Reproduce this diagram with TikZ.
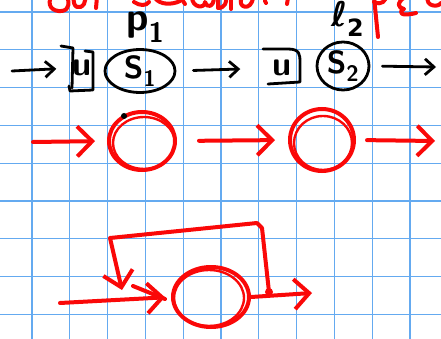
\documentclass[tikz,border=0pt]{standalone}
\usepackage{fontspec}
\newfontfamily\dejavu{DejaVu Sans}
\usetikzlibrary{arrows.meta,shapes.geometric}
\definecolor{gridblue}{RGB}{100,170,240}
\definecolor{inkred}{RGB}{250,8,8}
\tikzset{
  gridline/.style={draw=gridblue, line width=1.3pt},
  ink/.style={black, line width=2.8pt, line cap=round, line join=round},
  rink/.style={inkred, line width=4pt, line cap=round, line join=round},
  barb/.style={-{Straight Barb[length=9pt,width=16pt]}},
  rbarb/.style={-{Straight Barb[length=15pt,width=30pt]}},
  hand/.style={font=\fontsize{34}{34}\selectfont\sffamily\bfseries, inner sep=0pt},
  bigring/.style={ellipse, draw=inkred, line width=4pt, inner sep=0pt},
  blackring/.style={ellipse, draw=black, line width=2.8pt, inner sep=0pt, font=\fontsize{32}{32}\selectfont\sffamily\bfseries},
}
\begin{document}
\begin{tikzpicture}[x=1pt,y=-1pt]
\useasboundingbox[fill=white] (0,0) rectangle (441,339);
% grid
\foreach \k in {0,...,10} \draw[gridline] ({32+37.8*\k},0) -- ({32+37.8*\k},339);
\foreach \k in {0,...,8} \draw[gridline] (0,{12+37.8*\k}) -- (441,{12+37.8*\k});

% top red fragments (clipped title)
\begin{scope}
\clip (0,0) rectangle (441,339);
\draw[rink] (52,-5) .. controls (46,5) and (52,12) .. (62,11) .. controls (70,10) and (70,0) .. (66,-4);
\draw[rink] (74,-3) .. controls (72,8) and (80,10) .. (84,4) -- (86,-3);
\draw[rink] (97,-3) -- (96,8);
\draw[rink] (134,2) .. controls (140,6) and (146,6) .. (149,2);
\draw[rink] (155,-2) .. controls (160,5) and (172,5) .. (180,1);
\draw[rink] (181,-2) -- (185,4);
\draw[rink] (192,-3) .. controls (192,8) and (205,9) .. (205,2) .. controls (206,8) and (214,8) .. (214,-3);
\draw[rink] (218,-3) -- (218,8) .. controls (225,8) and (227,2) .. (226,-3);
\draw[rink] (231,-3) -- (231,9);
\draw[rink] (242,-3) .. controls (236,8) and (252,12) .. (253,-3);
\draw[rink] (265,1) -- (266,3);
\draw[rink] (288,-2) -- (287,4);
\draw[rink] (374,-3) -- (378,37);
\draw[rink] (374,2) .. controls (382,6) and (386,0) .. (386,-4);
\draw[rink] (405,-3) .. controls (396,3) and (398,8) .. (404,9) .. controls (398,12) and (400,17) .. (416,13);
\draw[rink] (428,-3) .. controls (425,6) and (438,8) .. (441,3);
\end{scope}

% ---- top row (black)
\coordinate (in1) at (12,71);
\node[hand] (b1) at (82,68) {u};
\draw[ink] (61,46) -- (73,48) -- (72,88);
\draw[ink] (69,86) -- (70,91) -- (93,90) -- (93,52) -- (85,51);
\node[blackring, minimum width=70pt, minimum height=42pt] (s1) at (140,71) {S\textsubscript{1}};
\node[hand] (b2) at (282,68) {u};
\draw[ink] (263,49) -- (288,49) .. controls (300,49) and (300,55) .. (300,62) -- (300,82) -- (268,84);
\node[blackring, minimum width=52pt, minimum height=48pt] (s2) at (343,66) {S\textsubscript{2}};
\coordinate (out1) at (436,67);
\node[font=\fontsize{40}{40}\selectfont\sffamily\bfseries, inner sep=0pt, anchor=base west, text height=19pt] (p1) at (126,31) {p\textsubscript{1}};
\node[font=\fontsize{34}{34}\selectfont\dejavu\bfseries, inner sep=0pt, anchor=base west, text height=25pt] (p2) at (331,27) {ℓ\textsubscript{2}};

\draw[ink,barb,shorten >=16pt] (in1) -- (b1.west);
\draw[ink,barb,shorten <=17pt,shorten >=32pt] (s1.east) -- (b2.west);
\draw[ink,barb,shorten <=12pt] (s2.east) -- (out1);

% ---- middle row (red)
\coordinate (rin) at (33,142);
\node[bigring, minimum width=66pt, minimum height=58pt] (rc1) at (142,141) {};
\draw[inkred, line width=2.4pt] (rc1.center) ++(2,2) ellipse [x radius=31pt, y radius=26pt];
\fill[black] (124,116) circle [radius=3pt];
\node[bigring, minimum width=64pt, minimum height=62pt] (rc2) at (322,140) {};
\draw[inkred, line width=2.4pt] (rc2.center) ++(1,3) ellipse [x radius=29pt, y radius=27pt];
\coordinate (rout) at (435,141);
\draw[rink,rbarb,shorten >=12pt] (rin) -- (rc1.west);
\draw[rink,rbarb,shorten <=22pt,shorten >=13pt] (rc1.east) -- (rc2.west);
\draw[rink,rbarb,shorten <=11pt] (rc2.east) -- (rout);

% ---- bottom row (red)
\coordinate (rin3) at (60,303);
\node[bigring, minimum width=76pt, minimum height=60pt] (rc3) at (211,297) {};
\draw[inkred, line width=2.4pt] (rc3.center) ++(-2,1) ellipse [x radius=35pt, y radius=28pt];
\coordinate (rout3) at (312,293);
\coordinate (fb) at (269,292);
\coordinate (fbend) at (122,290);
\draw[rink,rbarb,shorten >=6pt] (rin3) -- (rc3.west);
\draw[rink] (133,286) -- (165,299);
\draw[rink,rbarb] (rc3.east) -- (rout3);
\draw[rink,rbarb] (fb) -- (262,228) -- (257,223) -- (110,238) -- (fbend);
\fill[inkred] (fb) circle [radius=4pt];
\end{tikzpicture}
\end{document}
